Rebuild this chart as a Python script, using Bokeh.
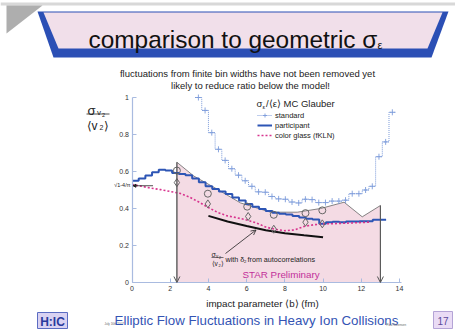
from bokeh.plotting import figure
from bokeh.models import (Range1d, LinearAxis, FixedTicker, Label, Arrow, OpenHead,
                          NormalHead, Legend, LegendItem)
from bokeh.embed import file_html
from bokeh.resources import INLINE

# ---------------- data ----------------
# participant eccentricity (step histogram): bin left edges and values
part_edges = [0.0, 0.35, 0.70, 1.05, 1.40, 1.75, 2.10, 2.45, 2.80, 3.15, 3.50, 3.85,
              4.20, 4.55, 4.90, 5.25, 5.60, 5.95, 6.30, 6.65, 7.00, 7.35, 7.70, 8.05,
              8.40, 8.75, 9.10, 9.45, 9.80, 10.15, 10.50, 10.85, 11.20, 11.55, 11.90,
              12.25, 12.60, 12.95, 13.30]
part_vals = [0.550, 0.562, 0.578, 0.596, 0.609, 0.605, 0.592, 0.587, 0.580, 0.562,
             0.542, 0.520, 0.505, 0.492, 0.478, 0.460, 0.443, 0.425, 0.410, 0.397,
             0.387, 0.377, 0.372, 0.368, 0.360, 0.352, 0.345, 0.340, 0.318, 0.326,
             0.328, 0.326, 0.330, 0.330, 0.331, 0.331, 0.339, 0.339]

# standard eccentricity (step histogram with crosses)
std_edges = [3.30, 3.65, 4.00, 4.35, 4.70, 5.05, 5.40, 5.75, 6.10, 6.45, 6.80, 7.15,
             7.50, 7.85, 8.20, 8.55, 8.90, 9.25, 9.60, 9.95, 10.30, 10.65, 11.00,
             11.35, 11.70, 12.05, 12.40, 12.75, 13.10, 13.45, 13.80]
std_vals = [1.00, 0.93, 0.81, 0.72, 0.66, 0.615, 0.58, 0.55, 0.52, 0.49, 0.488, 0.465,
            0.452, 0.45, 0.435, 0.43, 0.45, 0.448, 0.432, 0.432, 0.44, 0.44, 0.445,
            0.48, 0.48, 0.50, 0.52, 0.68, 0.76, 0.92]

# color glass (fKLN)
cgc_b = [0.0, 0.5, 1.0, 1.5, 2.0, 2.5, 3.0, 3.5, 4.0, 4.5, 5.0, 5.5, 6.0, 6.5, 7.0,
         7.5, 8.0, 8.5, 9.0, 9.5, 10.0, 10.5, 11.0, 11.5, 12.0, 12.5]
cgc_v = [0.530, 0.520, 0.510, 0.502, 0.492, 0.482, 0.462, 0.435, 0.405, 0.378, 0.360,
         0.350, 0.338, 0.322, 0.300, 0.287, 0.280, 0.284, 0.303, 0.312, 0.317, 0.318,
         0.320, 0.322, 0.324, 0.327]

# sigma/<v2> with delta2 from autocorrelations
auto_b = [4.0, 5.0, 6.0, 7.0, 8.0, 9.0, 10.0]
auto_v = [0.360, 0.330, 0.305, 0.282, 0.266, 0.255, 0.245]

# STAR points (upper: circles, lower: diamonds)
up_b = [2.35, 3.97, 6.03, 7.42, 9.08, 9.96]
up_v = [0.605, 0.480, 0.410, 0.366, 0.375, 0.390]
lo_b = [2.35, 3.97, 6.08, 7.42, 9.08, 9.96]
lo_v = [0.540, 0.425, 0.357, 0.288, 0.326, 0.317]

# systematic band (upper edge)
band_b = [2.35, 2.35, 3.24, 4.28, 5.68, 7.25, 8.65, 9.87, 11.10, 12.05, 13.00, 13.00]
band_v = [0.0, 0.650, 0.575, 0.515, 0.430, 0.380, 0.380, 0.400, 0.434, 0.355, 0.416, 0.0]

sqrt_level = 0.523

x_ticks = [0, 2, 4, 6, 8, 10, 12, 14]
y_ticks = [0, 0.2, 0.4, 0.6, 0.8, 1.0]
y_tick_labels = {0: "0", 0.2: "0.2", 0.4: "0.4", 0.6: "0.6", 0.8: "0.8", 1.0: "1"}

# ---------------- page geometry ----------------
W, H = 455, 330
SX, SY = 19.107, 185.0            # pixels per data unit
X0 = -131.5 / SX                  # data x at left canvas edge
Y1 = 1 + 97.0 / SY                # data y at top canvas edge
XE = X0 + W / SX
YB = Y1 - H / SY

def px(xp, yp):
    """picture pixel -> data coords, for slide decoration"""
    return X0 + xp / SX, Y1 - yp / SY

p = figure(width=W, height=H, output_backend="svg", toolbar_location=None,
           x_range=Range1d(X0, XE), y_range=Range1d(YB, Y1),
           x_axis_type=None, y_axis_type=None, min_border=0)
p.outline_line_color = None
p.grid.visible = False
p.background_fill_color = "white"

FONT = "Liberation Sans"

def label(xp, yp, text, size, color="#222", align="left", base="middle",
          style="normal", font=FONT):
    x, y = px(xp, yp)
    p.add_layout(Label(x=x, y=y, text=text, text_font_size=f"{size}px",
                       text_color=color, text_align=align, text_baseline=base,
                       text_font=font, text_font_style=style))

def poly(pts, **kw):
    xs = [px(a, b)[0] for a, b in pts]
    ys = [px(a, b)[1] for a, b in pts]
    p.patch(xs, ys, **kw)

# ---------------- slide decoration ----------------
poly([(0, 2), (455, 2), (455, 5), (0, 5)], fill_color="#d8d8d8", line_color=None)
poly([(6, 5), (42, 5), (6, 33)], fill_color="#a0a0a0", line_color=None, fill_alpha=0.85)
poly([(37, 11), (448, 11), (431, 57), (53, 57)], fill_color="#2b4fb5", line_color=None)
poly([(43, 12), (442, 12), (427, 48), (58, 48)], fill_color="#f1dfea", line_color=None)
label(88, 39, "comparison to geometric σ", 24.4, color="#111", base="alphabetic")
label(377, 44, "ε", 11, color="#111", base="alphabetic")
label(247, 73, "fluctuations from finite bin widths have not been removed yet", 9.5,
      color="#222", align="center")
label(250, 85, "likely to reduce ratio below the model!", 9.5, color="#222", align="center")

# footer
poly([(37, 312), (67, 312), (67, 328), (37, 328)], fill_color="#d9d2f2",
     line_color="#5b6cc2", line_width=1)
label(52, 321, "H:IC", 12, color="#2a3a9c", align="center", style="bold")
label(104, 323, "July 16th 2007", 3, color="#666")
label(256, 320, "Elliptic Flow Fluctuations in Heavy Ion Collisions", 13.3,
      color="#3454b4", align="center")
label(386, 324, "Paul Sorensen", 3, color="#666")
poly([(433, 311), (452, 311), (452, 328), (433, 328)], fill_color="#eadcf5",
     line_color="#b4a4d6", line_width=1)
label(442.5, 320, "17", 10, color="#5a4a9a", align="center")

# ---------------- chart ----------------
p.patch(band_b, band_v, fill_color="#f4dbe4", line_color="#666666", line_width=0.8)

# arrows at the band edges
for b, v in [(band_b[0], band_v[1]), (band_b[-1], band_v[-2])]:
    p.add_layout(Arrow(x_start=b, y_start=v, x_end=b, y_end=0.0,
                       line_color="#555", line_width=1,
                       end=OpenHead(size=6, line_color="#555", line_width=1)))

r_std = p.step(std_edges, std_vals + [std_vals[-1]], mode="after", line_color="#7c9bda",
               line_width=1, line_dash="1 1")
std_c = [(a + b) / 2 for a, b in zip(std_edges[:-1], std_edges[1:])]
r_stdm = p.scatter(std_c, std_vals, marker="cross", size=6, line_color="#7c9bda",
                   line_width=0.9)

r_part = p.step(part_edges, part_vals + [part_vals[-1]], mode="after",
                line_color="#2d55b5", line_width=2)

r_cgc = p.line(cgc_b, cgc_v, line_color="#d8348e", line_width=1.6, line_dash="2 2")

p.line(auto_b, auto_v, line_color="#111111", line_width=2)

p.scatter(up_b, up_v, marker="circle", size=7, fill_color=None, line_color="#666666",
          line_width=1)
p.scatter(lo_b, lo_v, marker="diamond", size=8, fill_color=None, line_color="#666666",
          line_width=1)

# sqrt(4/pi - 1) marker
p.add_layout(Arrow(x_start=1.1, y_start=sqrt_level, x_end=0.05, y_end=sqrt_level,
                   line_color="#222", line_width=0.8,
                   end=NormalHead(size=3, line_color="#222", fill_color="#222")))
label(130, 184, "√1-4/π", 5.5, color="#222", align="right")

# axes
yax = LinearAxis(fixed_location=0, ticker=FixedTicker(ticks=y_ticks),
                 major_label_overrides=y_tick_labels, bounds=(0, 1))
xax = LinearAxis(fixed_location=0, ticker=FixedTicker(ticks=x_ticks), bounds=(0, 14.1))
for ax in (yax, xax):
    ax.axis_line_color = "#a9bbe0"
    ax.axis_line_width = 1.2
    ax.major_tick_line_color = "#a9bbe0"
    ax.major_tick_in = 4
    ax.major_tick_out = 0
    ax.minor_tick_line_color = None
    ax.major_label_text_font_size = "7px"
    ax.major_label_text_color = "#333"
    ax.major_label_text_font = FONT
    ax.major_label_standoff = 3
p.add_layout(yax, "left")
p.add_layout(xax, "below")

# axis titles
label(262, 303, "impact parameter ⟨b⟩ (fm)", 9.8, color="#222", align="center")
label(87, 110, "σ", 13, color="#222", base="alphabetic")
label(96.5, 112, "v", 8, color="#222", base="alphabetic")
label(101.5, 114, "2", 5.5, color="#222", base="alphabetic")
xa, ya = px(86, 113.5)
xb, _ = px(109, 113.5)
p.line([xa, xb], [ya, ya], line_color="#222", line_width=0.8)
label(86, 125, "⟨v", 12, color="#222", base="alphabetic")
label(99, 127, "2", 7, color="#222", base="alphabetic")
label(103, 125, "⟩", 12, color="#222", base="alphabetic")

# legend
label(256, 103, "σ", 9.5, color="#222")
label(262, 106, "ε", 6, color="#222")
label(265.5, 103, "/⟨ε⟩ MC Glauber", 9.5, color="#222")
leg = Legend(items=[LegendItem(label="standard", renderers=[r_std, r_stdm]),
                    LegendItem(label="participant", renderers=[r_part]),
                    LegendItem(label="color glass (fKLN)", renderers=[r_cgc])],
             location=(257, 190), margin=0, padding=0, spacing=0,
             label_text_font_size="7.5px", label_text_font=FONT,
             label_text_color="#222", label_height=10, glyph_height=10,
             glyph_width=15, label_standoff=3, border_line_color=None,
             background_fill_alpha=0)
p.add_layout(leg)

# annotation
a0 = px(225, 253)
a1 = px(255.5, 229.5)
p.add_layout(Arrow(x_start=a0[0], y_start=a0[1], x_end=a1[0], y_end=a1[1],
                   line_color="#222", line_width=0.8,
                   end=OpenHead(size=5, line_color="#222", line_width=0.8)))
label(211, 254, "σ", 7, color="#222", base="alphabetic")
label(215.5, 255.5, "v", 4.5, color="#222", base="alphabetic")
label(218.5, 256.5, "2", 3.5, color="#222", base="alphabetic")
fa, fy = px(211, 257)
fb, _ = px(223, 257)
p.line([fa, fb], [fy, fy], line_color="#222", line_width=0.6)
label(211, 263, "⟨v", 6.5, color="#222", base="alphabetic")
label(218, 264.5, "2", 4, color="#222", base="alphabetic")
label(220.5, 263, "⟩", 6.5, color="#222", base="alphabetic")
label(225, 258.5, "with δ", 7.2, color="#222")
label(243.5, 260.5, "2", 4.3, color="#222")
label(247, 258.5, "from autocorrelations", 7.2, color="#222")
label(242, 274, "STAR Preliminary", 9.8, color="#c2309a")

open("out.html", "w").write(file_html(p, INLINE))
